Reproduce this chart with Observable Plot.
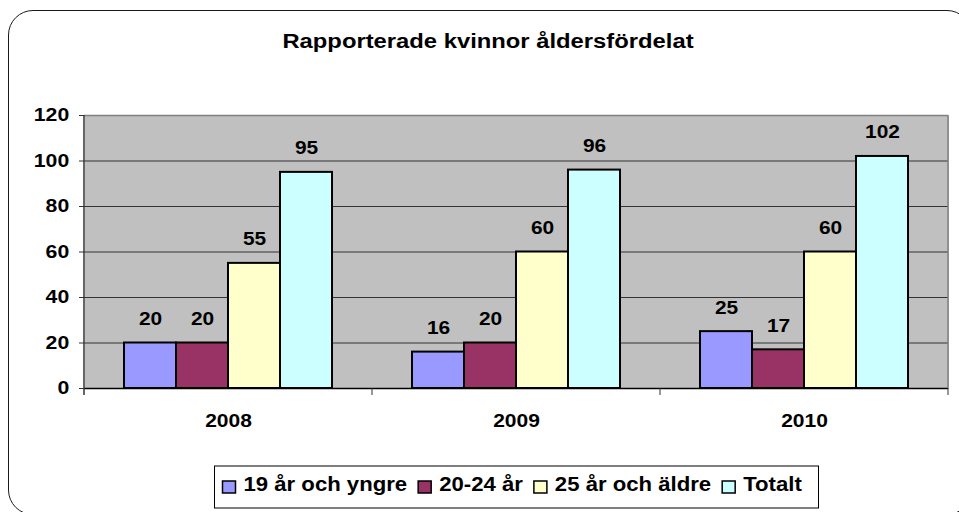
<!DOCTYPE html>
<html>
<head>
<meta charset="utf-8">
<script src="https://cdn.jsdelivr.net/npm/d3@7"></script>
<script src="https://cdn.jsdelivr.net/npm/@observablehq/plot@0.6"></script>
<style>
  html, body { margin: 0; padding: 0; background: #fff; }
  #wrap { position: relative; width: 959px; height: 512px; overflow: hidden; background: #fff;
          font-family: "Liberation Sans", Arial, sans-serif; }
  #border { position: absolute; left: 8px; top: 10px; width: 964px; height: 505px;
            border: 1.5px solid #1a1a1a; border-radius: 25px; box-sizing: border-box; }
  svg { position: absolute; left: 0; top: 0; }
</style>
</head>
<body>
<div id="wrap"><div id="border"></div></div>
<script>
// ---- data ----
const title = "Rapporterade kvinnor åldersfördelat";
const years = ["2008", "2009", "2010"];
const series = ["19 år och yngre", "20-24 år", "25 år och äldre", "Totalt"];
const v19 = [20, 16, 25];
const v2024 = [20, 20, 17];
const v25 = [55, 60, 60];
const vTot = [95, 96, 102];
const colors = ["#9999FF", "#993366", "#FFFFCC", "#CCFFFF"];
const yTicks = [0, 20, 40, 60, 80, 100, 120];
const gridTicks = [20, 40, 60, 80, 100];

const seriesValues = [v19, v2024, v25, vTot];
const table = [];
years.forEach((yr, i) => series.forEach((s, j) => table.push({year: yr, series: s, value: seriesValues[j][i]})));

const wrap = document.getElementById("wrap");

const plot = Plot.plot({
  width: 959,
  height: 440,
  marginTop: 115,
  marginBottom: 52,
  marginLeft: 83,
  marginRight: 10,
  style: {background: "transparent", fontFamily: "'Liberation Sans', Arial, sans-serif", fontWeight: "bold", color: "#000"},
  fx: {domain: years, padding: 0, label: null},
  x: {domain: series, paddingInner: 0, paddingOuter: 0.74, axis: null},
  y: {domain: [0, 120], axis: null},
  color: {domain: series, range: colors},
  marks: [
    Plot.frame({fill: "#C0C0C0", stroke: null, shapeRendering: "crispEdges"}),
    Plot.ruleY(gridTicks, {stroke: "#333", strokeWidth: 1}),
    Plot.ruleY([120], {stroke: "#808080", strokeWidth: 1.5}),
    Plot.barY(table, {fx: "year", x: "series", y: "value", fill: "series", stroke: "#000", strokeWidth: 2}),
    Plot.ruleY([0], {stroke: "#000", strokeWidth: 1.5}),
    Plot.text(table, {fx: "year", x: "series", y: "value", text: d => String(d.value),
      lineAnchor: "bottom", dy: -18, fontSize: 19, fontWeight: "bold", fill: "#000"}),
    Plot.axisY(yTicks, {tickSize: 5, tickPadding: 10.3, fontSize: 17.7, fontWeight: "bold", stroke: "#333", label: null}),
    Plot.axisFx({anchor: "bottom", tickSize: 0, tickPadding: 25, fontSize: 18.6, fontWeight: "bold", label: null})
  ]
});
wrap.appendChild(plot);

// boundary lines / ticks from the library's own scales
const fxS = plot.scale("fx");
const yS = plot.scale("y");
const edges = fxS.domain.map(d => fxS.apply(d));
edges.push(edges[edges.length - 1] + fxS.bandwidth);
const g = d3.select(plot).append("g");
const y0 = yS.apply(0), yTop = yS.apply(120);
// right border of plot area (gray)
g.append("line").attr("x1", edges[edges.length - 1]).attr("x2", edges[edges.length - 1])
  .attr("y1", yTop).attr("y2", y0).attr("stroke", "#808080").attr("stroke-width", 1.5);
// left value axis line (dark)
g.append("line").attr("x1", edges[0]).attr("x2", edges[0])
  .attr("y1", yTop).attr("y2", y0 + 7).attr("stroke", "#333").attr("stroke-width", 1.5);
// category boundary ticks
edges.slice(1).forEach(x => g.append("line").attr("x1", x).attr("x2", x)
  .attr("y1", y0).attr("y2", y0 + 7).attr("stroke", "#333").attr("stroke-width", 1));

function stretch(sel, f) {
  sel.each(function () {
    const L = this.getComputedTextLength();
    this.setAttribute("textLength", L * f);
    this.setAttribute("lengthAdjust", "spacingAndGlyphs");
  });
}
stretch(d3.select(plot).selectAll('g[aria-label="y-axis tick label"] text'), 1.2);
stretch(d3.select(plot).selectAll('g[aria-label="fx-axis tick label"] text'), 1.13);
stretch(d3.select(plot).selectAll('g[aria-label="text"] text'), 1.1);

// ---- title and legend overlay ----
const ov = d3.select(wrap).append("svg").attr("width", 959).attr("height", 512)
  .style("font-family", "'Liberation Sans', Arial, sans-serif").style("font-weight", "bold");
const t = ov.append("text").attr("x", 488).attr("y", 48.3).attr("text-anchor", "middle")
  .attr("font-size", 19.5).attr("fill", "#000").text(title);
stretch(t, 1.22);

const lg = ov.append("g");
lg.append("rect").attr("x", 214.5).attr("y", 466).attr("width", 604).attr("height", 42)
  .attr("fill", "#fff").attr("stroke", "#000").attr("stroke-width", 1);
let lx = 222.5;
series.forEach((s, i) => {
  lg.append("rect").attr("x", lx).attr("y", 481).attr("width", 13).attr("height", 12)
    .attr("fill", colors[i]).attr("stroke", "#000").attr("stroke-width", 1.5);
  const tx = lg.append("text").attr("x", lx + 21).attr("y", 491).attr("font-size", 20.5).attr("fill", "#000").text(s);
  stretch(tx, 1.08);
  lx = lx + 21 + +tx.attr("textLength") + 11;
});
</script>
</body>
</html>
